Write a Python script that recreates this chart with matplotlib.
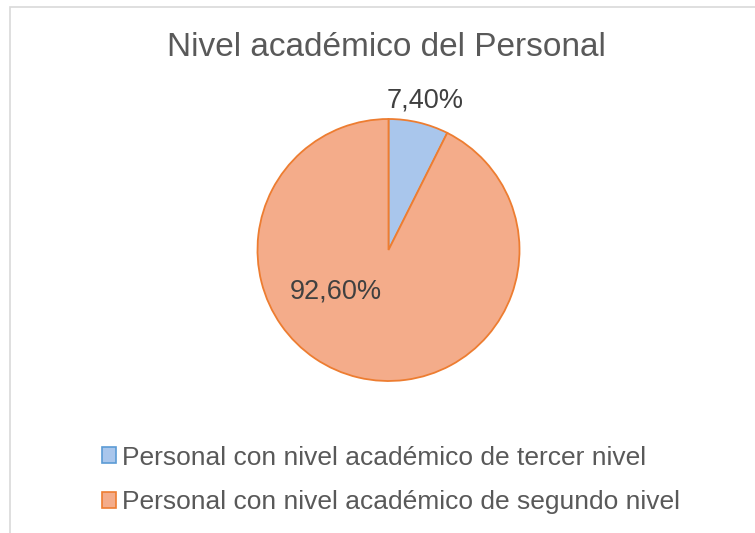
import matplotlib
matplotlib.use("Agg")
import matplotlib.pyplot as plt
from matplotlib.patches import Rectangle, Patch

plt.rcParams['font.family'] = ['Liberation Sans', 'DejaVu Sans']

title = "Nivel académico del Personal"
categories = ["Personal con nivel académico de tercer nivel",
              "Personal con nivel académico de segundo nivel"]
values = [7.40, 92.60]
fills = ["#A9C6EC", "#F4AC8A"]
edge = "#ED7D31"
legend_edges = ["#5B9BD5", "#ED7D31"]

W, H = 755, 533
fig = plt.figure(figsize=(W / 100, H / 100), dpi=100)

# outer chart border
fig.add_artist(Rectangle((10 / W, -0.01), 1.02, (H - 7) / H + 0.01,
                         transform=fig.transFigure, fill=False,
                         edgecolor="#D9D9D9", linewidth=1.2))

cx, cy, r = 388.5, 250, 131
ax = fig.add_axes([(cx - r) / W, (H - cy - r) / H, 2 * r / W, 2 * r / H])

wedges, _ = ax.pie(values, colors=fills, startangle=90, counterclock=False,
                   radius=1, wedgeprops=dict(edgecolor=edge, linewidth=1.3))
ax.set_xlim(-1, 1)
ax.set_ylim(-1, 1)
ax.axis("off")

def fmt(v):
    return f"{v:.2f}".replace(".", ",") + "%"

ax.text(0.28, 1.14, fmt(values[0]), ha="center", va="center",
        fontsize=19.5, color="#404040", clip_on=False)
ax.text(-0.40, -0.32, fmt(values[1]), ha="center", va="center",
        fontsize=19.5, color="#404040", clip_on=False)

fig.text(386 / W, 1 - 48 / H, title, ha="center", va="center",
         fontsize=24, color="#595959")

handles = [Patch(facecolor=f, edgecolor=e, linewidth=1.2)
           for f, e in zip(fills, legend_edges)]
leg = fig.legend(handles, categories, loc="center left",
                 bbox_to_anchor=(78 / W, 1 - 480 / H), frameon=False,
                 fontsize=19, labelcolor="#595959", handlelength=0.55,
                 handleheight=0.55, handletextpad=0.23, labelspacing=0.78)

fig.savefig("out.png", dpi=100, facecolor="white")
